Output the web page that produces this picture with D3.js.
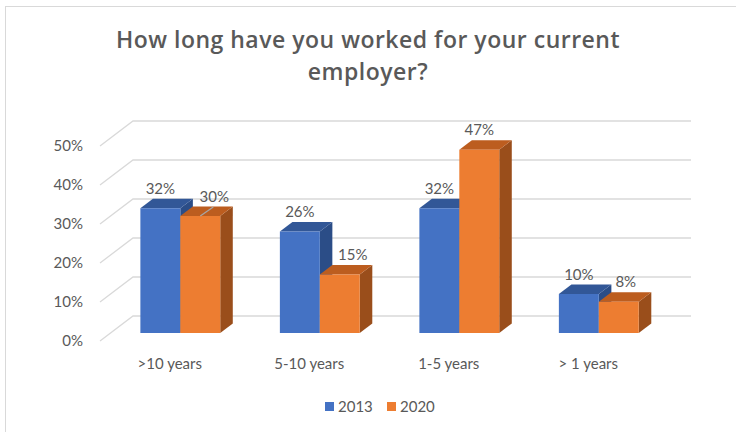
<!DOCTYPE html>
<html>
<head>
<meta charset="utf-8">
<script src="https://cdn.jsdelivr.net/npm/d3@7/dist/d3.min.js"></script>
<style>
  html, body { margin: 0; padding: 0; background: #fff; }
  svg { display: block; font-family: Lato, "Open Sans", sans-serif; }
</style>
</head>
<body>
<svg id="chart" width="736" height="432"></svg>
<script>
// Survey data: tenure with current employer
const categories = [">10 years", "5-10 years", "1-5 years", "> 1 years"];
const seriesNames = ["2013", "2020"];
const values2013 = [0.32, 0.26, 0.32, 0.10];
const values2020 = [0.30, 0.15, 0.47, 0.08];
const yTicks = [0, 0.1, 0.2, 0.3, 0.4, 0.5];
const titleLines = ["How long have you worked for your current", "employer?"];

const seriesValues = [values2013, values2020];
const palette = {
  "2013": { front: "#4472C4", top: "#325797", side: "#2b4d87" },
  "2020": { front: "#ED7D31", top: "#bc5d1f", side: "#9a4e1b" }
};

const svg = d3.select("#chart");
const textColor = "#595959";
const gridColor = "#d9d9d9";

// Outer chart frame
svg.append("rect")
  .attr("x", 5.5).attr("y", 6.5)
  .attr("width", 900).attr("height", 600)
  .attr("fill", "none").attr("stroke", gridColor).attr("stroke-width", 1);

// Title
svg.append("g").selectAll("text").data(titleLines).join("text")
  .attr("x", 368)
  .attr("y", (d, i) => 48 + i * 32)
  .attr("text-anchor", "middle")
  .attr("fill", textColor)
  .attr("font-family", "'Open Sans', sans-serif")
  .attr("font-size", 23)
  .attr("font-weight", 600)
  .attr("letter-spacing", 0.5)
  .text(d => d);

// Oblique 3D projection: front plane plus a depth vector
const depth = { dx: 33, dy: -25 };
const proj = (x, y, z) => [x + depth.dx * z, y + depth.dy * z];

const x0 = d3.scaleBand().domain(categories).range([100, 658])
  .paddingInner(0.4275).paddingOuter(0.21375);
const x1 = d3.scaleBand().domain(seriesNames).range([0, x0.bandwidth()]);
const y = d3.scaleLinear().domain([0, 0.5]).range([341, 146]);

// Gridlines: left side wall diagonal + back wall horizontal
const grid = svg.append("g");
yTicks.forEach(t => {
  const a = proj(100, y(t), 0);
  const b = proj(100, y(t), 1);
  const c = proj(658, y(t), 1);
  grid.append("path")
    .attr("d", d3.line()([a, b, c]))
    .attr("fill", "none")
    .attr("stroke", gridColor)
    .attr("stroke-width", 1.3);
});

// Y axis labels
svg.append("g").selectAll("text").data(yTicks).join("text")
  .attr("x", 83)
  .attr("y", d => y(d) + 5)
  .attr("text-anchor", "end")
  .attr("fill", textColor)
  .attr("font-size", 15)
  .text(d => d3.format(".0%")(d));

// Category labels on the floor's front edge
svg.append("g").selectAll("text").data(categories).join("text")
  .attr("x", d => x0(d) + x0.bandwidth() / 2)
  .attr("y", 369)
  .attr("text-anchor", "middle")
  .attr("fill", textColor)
  .attr("font-size", 15)
  .text(d => d);

// 3D bars, painted left to right
const zNear = 0.32, zFar = 0.70;
const bars = [];
categories.forEach((cat, ci) => {
  seriesNames.forEach((s, si) => {
    bars.push({ cat, series: s, value: seriesValues[si][ci] });
  });
});

const barLayer = svg.append("g");
const poly = pts => "M" + pts.map(p => p.join(",")).join("L") + "Z";

bars.forEach(b => {
  const xl = x0(b.cat) + x1(b.series);
  const xr = xl + x1.bandwidth();
  const yt = y(b.value), yb = y(0);
  const c = palette[b.series];
  const g = barLayer.append("g");
  // side face
  g.append("path").attr("fill", c.side)
    .attr("d", poly([proj(xr, yt, zNear), proj(xr, yt, zFar), proj(xr, yb, zFar), proj(xr, yb, zNear)]));
  // top face
  g.append("path").attr("fill", c.top)
    .attr("d", poly([proj(xl, yt, zNear), proj(xl, yt, zFar), proj(xr, yt, zFar), proj(xr, yt, zNear)]));
  // front face
  g.append("path").attr("fill", c.front)
    .attr("d", poly([proj(xl, yt, zNear), proj(xr, yt, zNear), proj(xr, yb, zNear), proj(xl, yb, zNear)]));
});

// Data labels; a few are nudged right to clear the neighbouring bar
const labelNudge = { "2020|>10 years": 14, "2020|5-10 years": 13, "2020|> 1 years": 7 };
const labels = svg.append("g");
bars.forEach(b => {
  const xl = x0(b.cat) + x1(b.series);
  const xc = xl + x1.bandwidth() / 2;
  const [fx, fy] = proj(xc, y(b.value), zNear);
  const [, by] = proj(xc, y(b.value), zFar);
  const nudge = labelNudge[b.series + "|" + b.cat] || 0;
  if (b.series === "2020" && b.cat === ">10 years") {
    // leader line from the moved label back to its bar
    labels.append("line")
      .attr("x1", fx).attr("y1", fy)
      .attr("x2", fx + 13).attr("y2", fy - 9)
      .attr("stroke", "#a6a6a6").attr("stroke-width", 1.3);
  }
  labels.append("text")
    .attr("x", fx + nudge)
    .attr("y", by - 5)
    .attr("text-anchor", "middle")
    .attr("fill", textColor)
    .attr("font-size", 15)
    .text(d3.format(".0%")(b.value));
});

// Legend
const legend = svg.append("g").attr("transform", "translate(325,402)");
const legendItems = legend.selectAll("g").data(seriesNames).join("g")
  .attr("transform", (d, i) => `translate(${i * 62},0)`);
legendItems.append("rect")
  .attr("width", 9).attr("height", 9)
  .attr("fill", d => palette[d].front);
legendItems.append("text")
  .attr("x", 13).attr("y", 10)
  .attr("fill", textColor)
  .attr("font-size", 15)
  .text(d => d);
</script>
</body>
</html>
